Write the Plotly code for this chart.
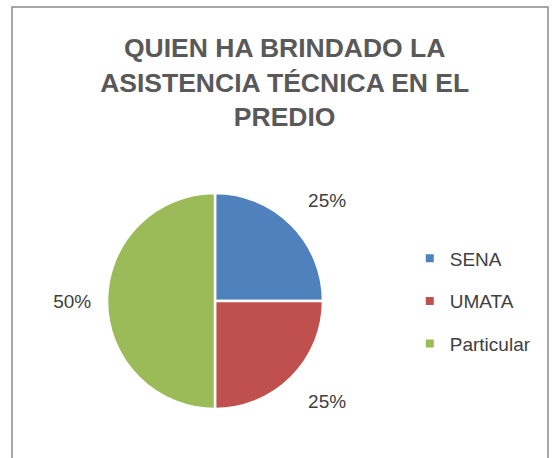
import plotly.graph_objects as go

labels = ["SENA", "UMATA", "Particular"]
values = [25, 25, 50]
colors = ["#4F81BD", "#C0504D", "#9BBB59"]
title_text = "QUIEN HA BRINDADO LA<br>ASISTENCIA TÉCNICA EN EL<br>PREDIO"

W, H = 556, 458
font_fam = "Liberation Sans Narrow, Arial Narrow, Liberation Sans, Arial, sans-serif"
NB = "\u00a0"

fig = go.Figure()
fig.add_trace(go.Pie(
    labels=labels, values=values, sort=False, direction="clockwise", rotation=0,
    marker=dict(colors=colors, line=dict(color="white", width=2.5)),
    textinfo="percent", textposition="outside",
    texttemplate=[NB + "%{percent:.0%}<br>" + NB,
                  NB + "<br>" + NB + "%{percent:.0%}",
                  "%{percent:.0%}" + NB * 2],
    textfont=dict(size=19, color="#404040", family=font_fam),
    domain=dict(x=[107/W, 323/W], y=[1-410/H, 1-192/H]),
    showlegend=False,
))
# legend entries (one group each so they can be spaced like the original)
for lab, col in zip(labels, colors):
    fig.add_trace(go.Scatter(
        x=[None], y=[None], mode="markers", name=lab, legendgroup=lab,
        marker=dict(symbol="square", size=8, color=col),
        showlegend=True, hoverinfo="skip",
    ))

fig.update_layout(
    width=W, height=H, autosize=False,
    margin=dict(l=0, r=0, t=0, b=0, pad=0, autoexpand=False),
    paper_bgcolor="white", plot_bgcolor="white",
    font=dict(family=font_fam),
    xaxis=dict(visible=False), yaxis=dict(visible=False),
    title=dict(text="<b>" + title_text + "</b>", x=0.512, xanchor="center", y=0.875, yanchor="top",
               font=dict(size=26.5, color="#595959", family=font_fam)),
    legend=dict(x=0.737, y=0.342, xanchor="left", yanchor="middle", traceorder="grouped",
                tracegroupgap=15, itemwidth=30,
                font=dict(size=19, color="#404040", family=font_fam)),
    shapes=[dict(type="rect", xref="paper", yref="paper", x0=12/W, x1=548/W, y0=-0.05, y1=1-7/H,
                 line=dict(color="#8C8C8C", width=1.5))],
)

fig.write_html("out.html", config={"displayModeBar": False},
               post_script="document.body.style.margin='0';document.documentElement.style.overflow='hidden';window.scrollTo(0,0);")
